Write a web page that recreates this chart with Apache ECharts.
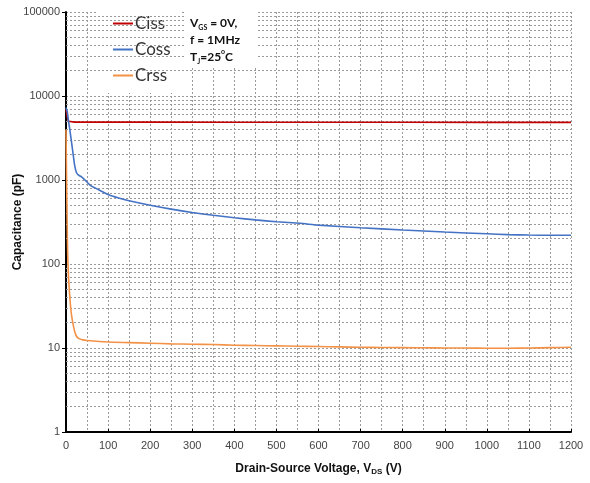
<!DOCTYPE html>
<html>
<head>
<meta charset="utf-8">
<script src="https://cdn.jsdelivr.net/npm/echarts@6/dist/echarts.min.js"></script>
<style>html,body{margin:0;padding:0;background:#fff}#c{width:590px;height:483px}</style>
</head>
<body>
<div id="c"></div>
<script>
// Data (V_DS in volts, capacitance in pF)
const seriesNames = ['Ciss', 'Coss', 'Crss'];
const cissV = [0, 3, 6, 9, 20, 100, 200, 400, 600, 800, 1000, 1200];
const cissC = [7000, 5600, 5000, 4900, 4890, 4880, 4880, 4870, 4860, 4860, 4850, 4850];
const cossV = [0, 3, 6, 9, 12, 16, 21, 25, 29, 37, 45, 57, 70, 81, 100, 125, 150, 200, 250, 300, 350, 400, 450, 500, 556, 600, 700, 800, 900, 1000, 1050, 1100, 1150, 1200];
const cossC = [7300, 6500, 5000, 4000, 3100, 2200, 1450, 1220, 1150, 1090, 1000, 870, 800, 750, 670, 610, 565, 500, 450, 410, 380, 355, 335, 318, 305, 290, 270, 254, 240, 229, 224, 221, 220, 220];
const crssV = [0, 1, 2, 3, 4, 6, 8, 10, 13, 17, 21, 25, 30, 40, 50, 100, 150, 200, 250, 300, 350, 400, 450, 500, 550, 600, 650, 700, 750, 800, 850, 900, 950, 1000, 1050, 1100, 1150, 1200];
const crssC = [4000, 1500, 600, 250, 130, 70, 48, 35, 25, 19, 15.5, 13.8, 13, 12.5, 12.3, 11.8, 11.6, 11.4, 11.2, 11.1, 11.0, 10.8, 10.7, 10.6, 10.5, 10.4, 10.3, 10.2, 10.15, 10.1, 10.05, 10.0, 10.0, 9.95, 9.95, 10.0, 10.1, 10.2];
const xTicks = { min: 0, max: 1200, interval: 100 };
const yTicks = { min: 1, max: 100000 };
const minorYLines = [2,3,4,5,6,7,8,9,20,30,40,50,60,70,80,90,200,300,400,500,600,700,800,900,2000,3000,4000,5000,6000,7000,8000,9000,20000,30000,40000,50000,60000,70000,80000,90000];

const pair = (xs, ys) => xs.map((x, i) => [x, ys[i]]);
const colors = ['#C00000', '#4472C4', '#F39247'];
const gridLine = { color: '#9a9a9a', width: 1, type: [2, 2] };

const chart = echarts.init(document.getElementById('c'));
chart.setOption({
  animation: false,
  textStyle: { fontFamily: 'Liberation Sans, Arial, sans-serif' },
  grid: { left: 66, right: 19, top: 12, bottom: 51, containLabel: false, outerBoundsMode: 'none' },
  legend: {
    orient: 'vertical', left: 96, top: 10, itemGap: 9,
    icon: 'rect', itemWidth: 20, itemHeight: 2,
    backgroundColor: '#fff', padding: [5, 10, 9, 17],
    textStyle: { fontFamily: 'Lato, Carlito, sans-serif', fontSize: 17, color: '#333', padding: [0, 0, 0, -3] },
    data: seriesNames
  },
  xAxis: {
    type: 'value', min: xTicks.min, max: xTicks.max, interval: xTicks.interval,
    name: '{b|Drain-Source Voltage, V}{s|DS}{b| (V)}',
    nameLocation: 'middle', nameGap: 30,
    nameTextStyle: { rich: {
      b: { fontWeight: 'bold', fontSize: 12, color: '#111' },
      s: { fontWeight: 'bold', fontSize: 8, color: '#111', verticalAlign: 'bottom', padding: [6, 0, 0, 0] }
    } },
    axisLine: { lineStyle: { color: '#000', width: 2 } },
    axisTick: { show: true, inside: true, length: 3, lineStyle: { color: '#000' } },
    axisLabel: { fontSize: 11, color: '#444', margin: 8, formatter: v => String(v) },
    splitLine: { show: true, lineStyle: gridLine },
    minorTick: { show: false, splitNumber: 2 },
    minorSplitLine: { show: true, lineStyle: gridLine }
  },
  yAxis: {
    type: 'log', logBase: 10, min: yTicks.min, max: yTicks.max,
    name: 'Capacitance (pF)', nameLocation: 'middle', nameGap: 42, nameMoveOverlap: false,
    nameTextStyle: { fontWeight: 'bold', fontSize: 12, color: '#111' },
    axisLine: { show: true, lineStyle: { color: '#000', width: 2 } },
    axisTick: { show: true, length: 4, lineStyle: { color: '#000' } },
    axisLabel: { fontSize: 11, color: '#444', margin: 6, formatter: v => String(Math.round(v)) },
    splitLine: { show: true, lineStyle: gridLine }
  },
  graphic: [
    { type: 'rect', left: 186, top: 12, shape: { width: 70, height: 56 }, style: { fill: '#fff' }, z: 50 },
    {
      type: 'text', left: 190, top: 17, z: 60,
      style: {
        text: '{b|V}{s|GS}{b| = 0V,}\n{b|f = 1MHz}\n{b|T}{s|J}{b|=25}{u|o}{b|C}',
        rich: {
          b: { fontFamily: 'Lato, sans-serif', fontWeight: 'bold', fontSize: 12, fill: '#111', lineHeight: 17 },
          s: { fontFamily: 'Lato, sans-serif', fontWeight: 'bold', fontSize: 7, fill: '#111', lineHeight: 17, verticalAlign: 'bottom', padding: [5, 0, 0, 0] },
          u: { fontFamily: 'Lato, sans-serif', fontWeight: 'bold', fontSize: 7, fill: '#111', lineHeight: 17, verticalAlign: 'top', padding: [0, 0, 5, 0] }
        }
      }
    }
  ],
  series: [
    { name: seriesNames[0], type: 'line', data: pair(cissV, cissC), showSymbol: false, lineStyle: { width: 1.6, color: colors[0] }, itemStyle: { color: colors[0] }, z: 5 },
    { name: seriesNames[1], type: 'line', data: pair(cossV, cossC), showSymbol: false, smooth: 0.2, lineStyle: { width: 1.6, color: colors[1] }, itemStyle: { color: colors[1] }, z: 5 },
    { name: seriesNames[2], type: 'line', data: pair(crssV, crssC), showSymbol: false, smooth: 0.2, lineStyle: { width: 1.6, color: colors[2] }, itemStyle: { color: colors[2] }, z: 5 },
    {
      type: 'line', data: [], silent: true, z: 1,
      markLine: { silent: true, symbol: 'none', label: { show: false }, lineStyle: gridLine, animation: false,
        data: minorYLines.map(v => ({ yAxis: v })) }
    }
  ]
});
</script>
</body>
</html>
